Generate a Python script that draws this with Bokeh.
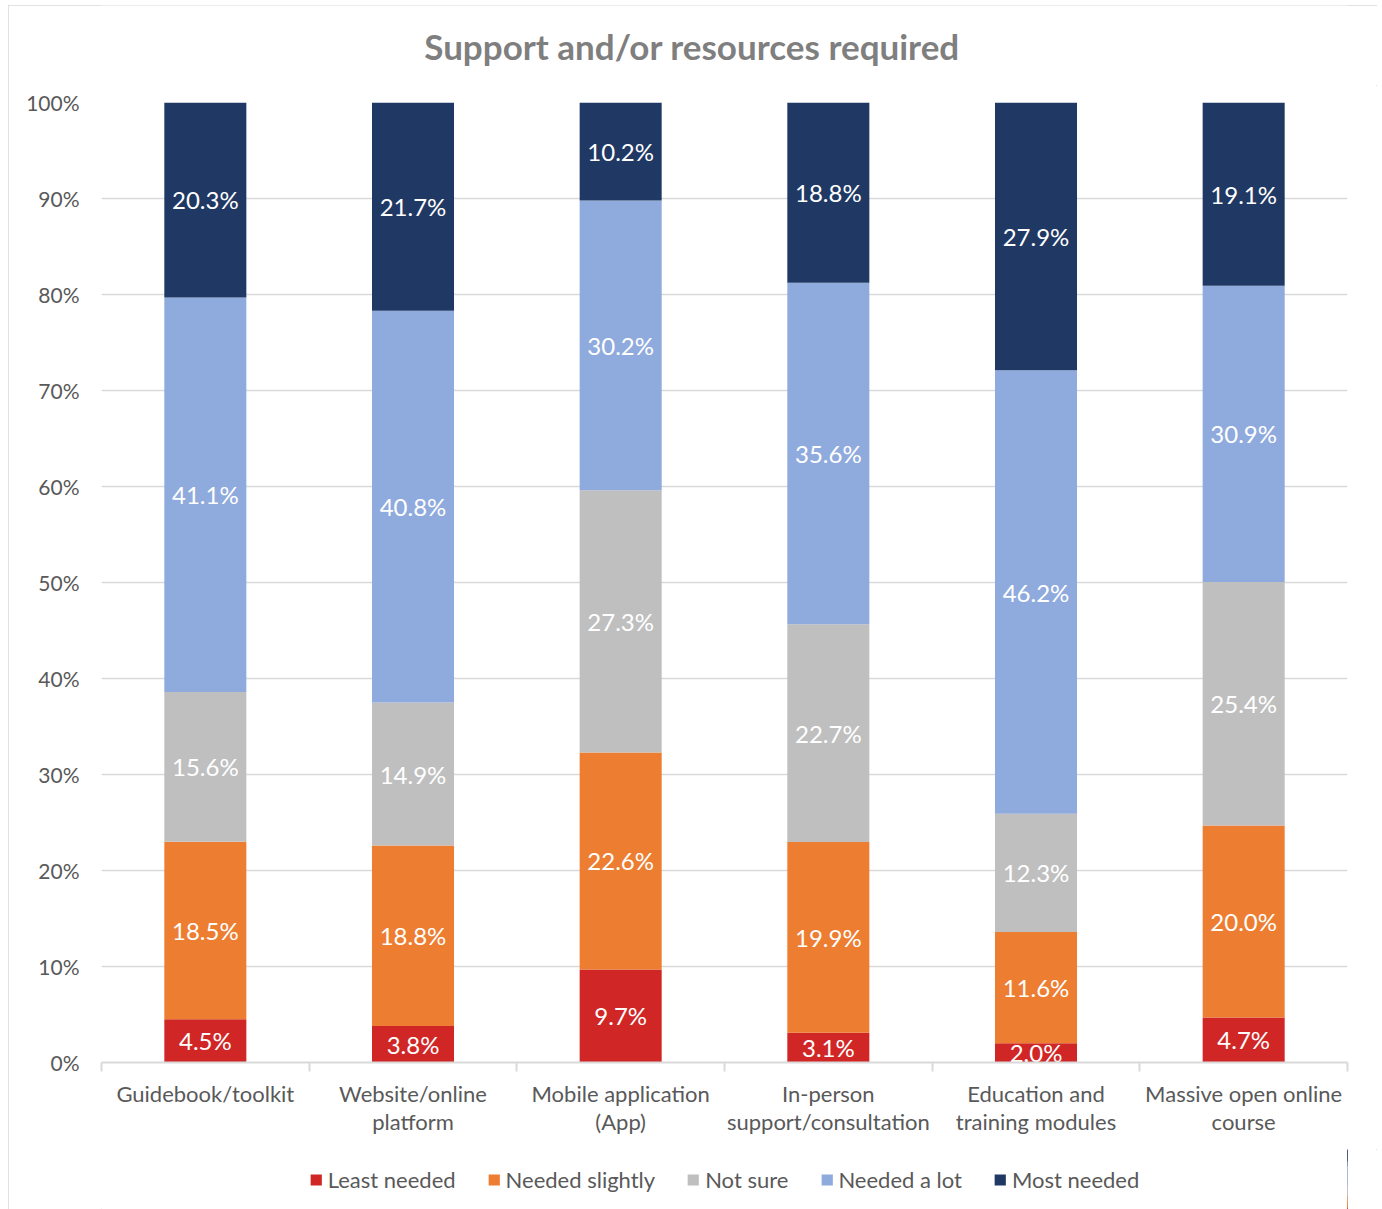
from bokeh.plotting import figure
from bokeh.layouts import column
from bokeh.models import (ColumnDataSource, Range1d, LinearAxis, FixedTicker,
                          PrintfTickFormatter, Legend, LegendItem)
from bokeh.core.properties import value
from bokeh.embed import file_html
from bokeh.resources import INLINE

# ---------------- data ----------------
categories = ["Guidebook/toolkit", "Website/online platform", "Mobile application (App)",
              "In-person support/consultation", "Education and training modules",
              "Massive open online course"]
label_line1 = ["Guidebook/toolkit", "Website/online", "Mobile application",
               "In-person", "Education and", "Massive open online"]
label_line2 = ["", "platform", "(App)", "support/consultation", "training modules", "course"]
series_names = ["Least needed", "Needed slightly", "Not sure", "Needed a lot", "Most needed"]
least_needed = [4.5, 3.8, 9.7, 3.1, 2.0, 4.7]
needed_slightly = [18.5, 18.8, 22.6, 19.9, 11.6, 20.0]
not_sure = [15.6, 14.9, 27.3, 22.7, 12.3, 25.4]
needed_a_lot = [41.1, 40.8, 30.2, 35.6, 46.2, 30.9]
most_needed = [20.3, 21.7, 10.2, 18.8, 27.9, 19.1]
y_ticks = [0, 10, 20, 30, 40, 50, 60, 70, 80, 90, 100]
title_text = "Support and/or resources required"

series_values = [least_needed, needed_slightly, not_sure, needed_a_lot, most_needed]
colors = ["#D02626", "#ED7D31", "#BFBFBF", "#8FAADC", "#203864"]
FONT = "Lato"
TXT = "#595959"

n = len(categories)
xpos = [i + 0.5 for i in range(n)]          # category slot centres
bounds = list(range(n + 1))                   # category slot boundaries

# 100% stacked shares
totals = [sum(s[i] for s in series_values) for i in range(n)]
keys = ["s%d" % k for k in range(len(series_names))]
data = {"x": xpos}
for k, s in zip(keys, series_values):
    data[k] = [v / t * 100 for v, t in zip(s, totals)]
source = ColumnDataSource(data)

W = 1369
TITLE_H = 80
LEG_H = 60

# ---------------- title strip ----------------
tf = figure(x_range=Range1d(0, 1), y_range=Range1d(0, 1), width=W, height=TITLE_H,
            output_backend="svg", toolbar_location=None, x_axis_location=None,
            y_axis_location=None, min_border=0)
tf.outline_line_color = None
tf.xgrid.grid_line_color = None
tf.ygrid.grid_line_color = None
tf.text(x=[0.474], y=[0.5], text=[title_text], text_font=value(FONT), text_font_size="35px",
        text_font_style="bold", text_color="#7f7f7f", text_align="center", text_baseline="middle")

# ---------------- main chart ----------------
p = figure(x_range=Range1d(0, n), y_range=Range1d(0, 100),
           width=W, height=1204 - TITLE_H - LEG_H, output_backend="svg", toolbar_location=None,
           x_axis_location=None,
           min_border_left=93, min_border_right=30, min_border_top=97 - TITLE_H,
           min_border_bottom=87)
p.outline_line_color = None

p.vbar_stack(keys, x="x", width=0.395, color=colors, line_color=None, source=source)

# data labels
lab_x, lab_y, lab_t = [], [], []
for i in range(n):
    base = 0.0
    for k, s in zip(keys, series_values):
        h = data[k][i]
        lab_x.append(xpos[i])
        lab_y.append(base + h / 2)
        lab_t.append("%.1f%%" % s[i])
        base += h
p.text(x="x", y="y", text="t", source=ColumnDataSource(dict(x=lab_x, y=lab_y, t=lab_t)),
       text_color="white", text_font=value(FONT), text_font_size="24px",
       text_align="center", text_baseline="middle")

# grid and y axis
p.xgrid.grid_line_color = None
p.ygrid.grid_line_color = "#d9d9d9"
p.ygrid.grid_line_width = 1.5
p.ygrid.ticker = FixedTicker(ticks=y_ticks)
p.yaxis.ticker = FixedTicker(ticks=y_ticks)
p.yaxis.formatter = PrintfTickFormatter(format="%d%%")
p.yaxis.axis_line_color = None
p.yaxis.major_tick_line_color = None
p.yaxis.minor_tick_line_color = None
p.yaxis.major_tick_out = 0
p.yaxis.major_label_standoff = 22
p.yaxis.major_label_text_font = FONT
p.yaxis.major_label_text_font_size = "21px"
p.yaxis.major_label_text_color = TXT

# boundary ticks axis (no labels)
tick_axis = LinearAxis(ticker=FixedTicker(ticks=bounds),
                       major_label_text_color=None, major_label_text_font_size="1px",
                       major_label_standoff=0, major_tick_out=9, major_tick_in=0,
                       minor_tick_line_color=None, axis_line_color="#d9d9d9", axis_line_width=2,
                       major_tick_line_color="#d9d9d9", major_tick_line_width=2)
p.add_layout(tick_axis, "below")

# category label axes (labels only, one per text line)
for lines, standoff in ((label_line1, 8), (label_line2, -2)):
    ax = LinearAxis(ticker=FixedTicker(ticks=xpos),
                    major_label_overrides={x: l for x, l in zip(xpos, lines)},
                    axis_line_color=None, major_tick_line_color=None, minor_tick_line_color=None,
                    major_tick_out=0, major_tick_in=0, major_label_standoff=standoff,
                    major_label_text_font=FONT, major_label_text_font_size="22px",
                    major_label_text_color=TXT)
    p.add_layout(ax, "below")

# ---------------- legend strip ----------------
# the same stacked bars, drawn in a strip whose x range lies away from them,
# so only their legend swatches show
lg = figure(x_range=Range1d(-3 * n, -2 * n), y_range=Range1d(0, 100), width=W, height=LEG_H,
            output_backend="svg", toolbar_location=None, x_axis_location=None,
            y_axis_location=None, min_border=0)
lg.outline_line_color = None
lg.xgrid.grid_line_color = None
lg.ygrid.grid_line_color = None
swatches = lg.vbar_stack(keys, x="x", width=0.395, color=colors, line_color=None, source=source)
legend = Legend(items=[LegendItem(label=nm, renderers=[r]) for nm, r in zip(series_names, swatches)],
                orientation="horizontal", location="center",
                label_text_font=FONT, label_text_font_size="22px", label_text_color=TXT,
                glyph_width=14, glyph_height=14, label_standoff=5, spacing=31,
                border_line_color=None, background_fill_alpha=0, padding=0, margin=0)
lg.add_layout(legend, "center")

page = column(tf, p, lg, spacing=0)
page.styles = {"outline": "1px solid #d9d9d9", "outline-offset": "-1px",
               "margin-left": "8px", "margin-top": "5px"}

open("out.html", "w").write(file_html(page, INLINE))
